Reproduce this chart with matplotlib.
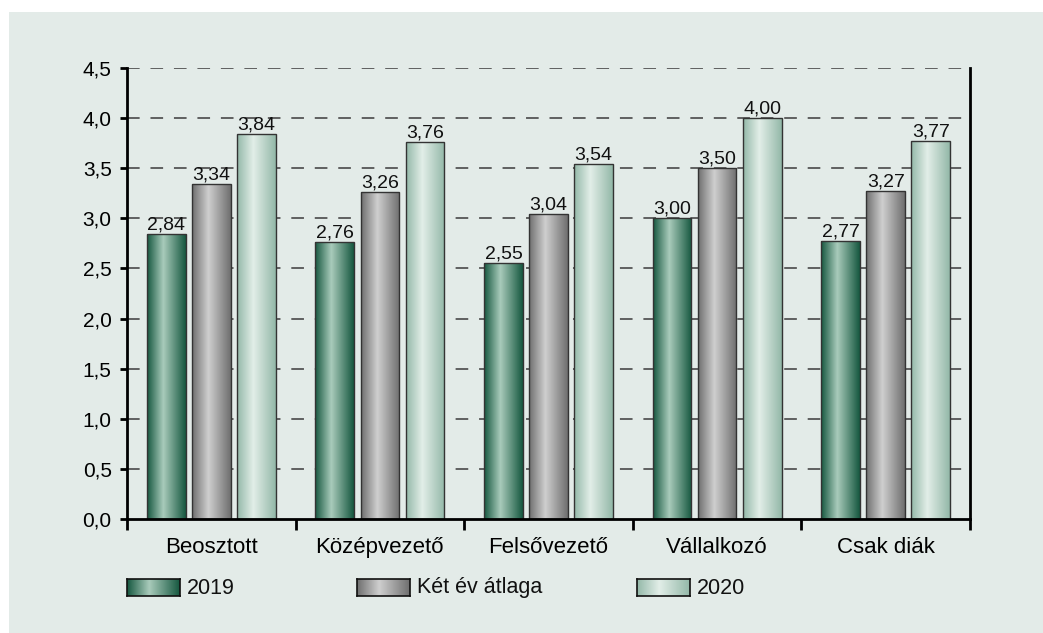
import numpy as np
import matplotlib.pyplot as plt
from matplotlib.colors import LinearSegmentedColormap
from matplotlib.patches import Rectangle

plt.rcParams["font.family"] = ["Liberation Sans", "DejaVu Sans"]

categories = ["Beosztott", "Középvezető", "Felsővezető", "Vállalkozó", "Csak diák"]
series_names = ["2019", "Két év átlaga", "2020"]
values_2019 = [2.84, 2.76, 2.55, 3.00, 2.77]
values_avg = [3.34, 3.26, 3.04, 3.50, 3.27]
values_2020 = [3.84, 3.76, 3.54, 4.00, 3.77]
y_ticks = [0.0, 0.5, 1.0, 1.5, 2.0, 2.5, 3.0, 3.5, 4.0, 4.5]

# edge colour -> centre colour for the cylinder-like gradient
gradients = [
    ("#15573f", "#a9cbbb"),
    ("#6e6e6e", "#cfcfcf"),
    ("#93b8a8", "#e2eee8"),
]
panel_color = "#e3ebe8"


def gradient_cmap(edge, centre):
    return LinearSegmentedColormap.from_list(
        "g", [(0, edge), (0.42, centre), (1, edge)])


def gradient_bar(ax, x, width, height, edge, centre):
    cmap = gradient_cmap(edge, centre)
    grad = np.linspace(0, 1, 256).reshape(1, -1)
    im = ax.imshow(grad, cmap=cmap, aspect="auto",
                   extent=(x, x + width, 0, height), zorder=3)
    rect = Rectangle((x, 0), width, height, facecolor="none",
                     edgecolor="#333333", linewidth=1.0, zorder=4)
    ax.add_patch(rect)
    im.set_clip_path(rect)


fig = plt.figure(figsize=(10.43, 6.33), dpi=100, facecolor="white")
fig.patches.append(Rectangle((9 / 1043, 0), 1 - 9 / 1043, 1 - 12 / 633,
                             transform=fig.transFigure, facecolor=panel_color,
                             edgecolor="none", zorder=-10))

ax = fig.add_axes([127 / 1043, 1 - 519 / 633, 843 / 1043, 451 / 633])
ax.set_facecolor(panel_color)

bar_w = 0.23
step = 0.267
all_series = [values_2019, values_avg, values_2020]
for s, vals in enumerate(all_series):
    edge, centre = gradients[s]
    for i, v in enumerate(vals):
        cx = i + 0.5 + (s - 1) * step
        gradient_bar(ax, cx - bar_w / 2, bar_w, v, edge, centre)
        ax.text(cx, v + 0.005, f"{v:.2f}".replace(".", ","), ha="center",
                va="bottom", fontsize=14, color="#111111", zorder=5)

ax.set_xlim(0, len(categories))
ax.set_ylim(0, 4.5)
ax.set_yticks(y_ticks)
ax.set_yticklabels([f"{t:.1f}".replace(".", ",") for t in y_ticks], fontsize=15)
ax.set_xticks(np.arange(len(categories)) + 0.5)
ax.set_xticklabels(categories, fontsize=16)
ax.set_xticks(np.arange(len(categories) + 1), minor=True)
ax.tick_params(axis="x", which="major", length=0, pad=13)
ax.tick_params(axis="x", which="minor", length=8, width=2, direction="out")
ax.tick_params(axis="y", length=5, width=2, direction="out", pad=6)

for y in y_ticks[1:]:
    ax.axhline(y, color="#555555", linewidth=1.3, linestyle=(0, (7, 6)), zorder=1)

for side in ["left", "right", "bottom"]:
    ax.spines[side].set_linewidth(2)
    ax.spines[side].set_color("black")
ax.spines["top"].set_visible(False)
ax.spines["bottom"].set_zorder(6)

# legend row
legend_x = [127, 357, 637]
for s, name in enumerate(series_names):
    edge, centre = gradients[s]
    lax = fig.add_axes([legend_x[s] / 1043, 1 - 596 / 633, 53 / 1043, 17 / 633])
    lax.imshow(np.linspace(0, 1, 256).reshape(1, -1),
               cmap=gradient_cmap(edge, centre), aspect="auto")
    lax.set_xticks([])
    lax.set_yticks([])
    for sp in lax.spines.values():
        sp.set_linewidth(1.2)
        sp.set_color("#111111")
    fig.text((legend_x[s] + 60) / 1043, 1 - 588 / 633, name, fontsize=15.5,
             va="center", ha="left", color="#111111")

fig.savefig("out.png", dpi=100, facecolor="white")
